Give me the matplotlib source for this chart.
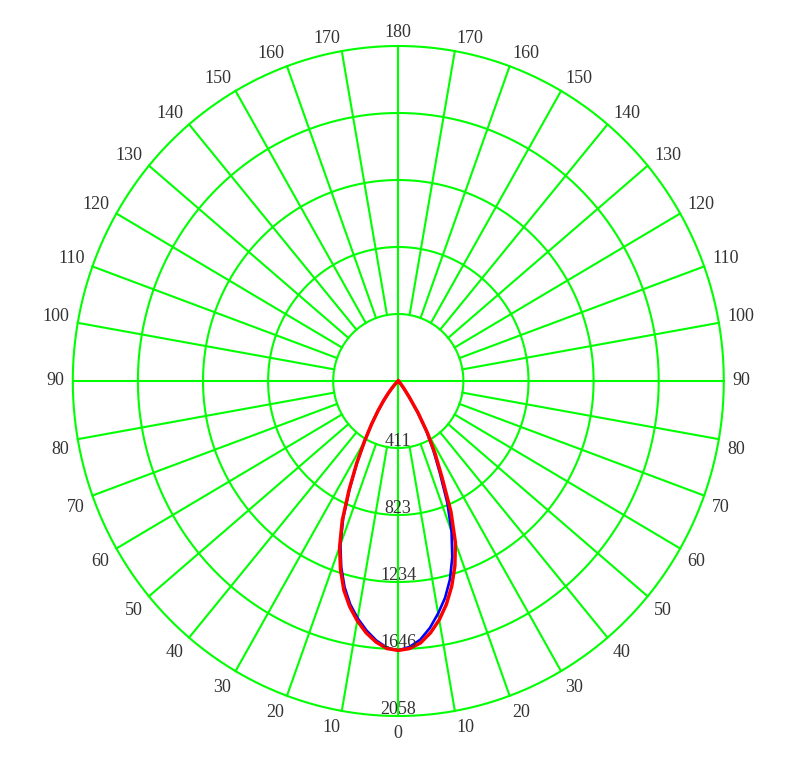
import numpy as np
import matplotlib
matplotlib.use('Agg')
import matplotlib.pyplot as plt

# intensity rings (cd) and their labels
ring_values = [411.6, 823.2, 1234.8, 1646.4, 2058.0]
ring_labels = ['411', '823', '1234', '1646', '2058']
angle_ticks = [0, 10, 20, 30, 40, 50, 60, 70, 80, 90,
               100, 110, 120, 130, 140, 150, 160, 170, 180]

gamma = [0, 2.5, 5, 7.5, 10, 12.5, 15, 17.5, 20, 22.5, 25, 27.5,
         30, 32.5, 35, 37.5, 40, 42.5, 45, 47.5, 50, 52.5, 55]

red_left = [1655, 1645, 1610, 1560, 1495, 1420, 1330, 1215, 1085, 925, 735, 570,
            428, 315, 225, 155, 100, 62, 35, 18, 8, 2, 0]
red_right = [1655, 1645, 1615, 1560, 1490, 1405, 1305, 1190, 1055, 870, 655, 505,
             370, 235, 120, 60, 28, 12, 4, 0, 0, 0, 0]
blue_left = [1655, 1640, 1600, 1545, 1480, 1405, 1312, 1200, 1070, 910, 725, 565,
             425, 312, 222, 152, 98, 60, 34, 17, 7, 2, 0]
blue_right = [1655, 1635, 1595, 1530, 1450, 1365, 1262, 1135, 985, 810, 620, 480,
              355, 225, 115, 55, 25, 10, 3, 0, 0, 0, 0]

GREEN = '#00ff00'
TXT = '#333333'
FONT = 'Liberation Serif'


def curve_xy(left, right):
    g = np.radians(gamma)
    l = np.array(left, dtype=float)
    r = np.array(right, dtype=float)
    x = np.concatenate([-l[::-1] * np.sin(g[::-1]), r[1:] * np.sin(g[1:])])
    y = np.concatenate([-l[::-1] * np.cos(g[::-1]), -r[1:] * np.cos(g[1:])])
    return x, y


fig = plt.figure(figsize=(7.98, 7.64), dpi=100)
ax = fig.add_axes([0.009649, 0.01126, 0.97895, 0.98010])
ax.set_xlim(-2469.6, 2469.6)
ax.set_ylim(-2300, 2300)
ax.axis('off')

R = ring_values[-1]
r_in = ring_values[0]

# rings
t = np.linspace(0, 2 * np.pi, 500)
for rv in ring_values:
    ax.plot(rv * np.cos(t), rv * np.sin(t), color=GREEN, lw=1.5, zorder=1)

# spokes
for a in range(10, 180, 10):
    if a == 90:
        continue
    ar = np.radians(a)
    for side in (-1, 1):
        ax.plot([side * r_in * np.sin(ar), side * R * np.sin(ar)],
                [-r_in * np.cos(ar), -R * np.cos(ar)],
                color=GREEN, lw=1.5, zorder=1)
ax.plot([-R, R], [0, 0], color=GREEN, lw=1.5, zorder=1)
ax.plot([0, 0], [-R, R], color=GREEN, lw=1.5, zorder=1)

# curves
bx, by = curve_xy(blue_left, blue_right)
ax.plot(bx, by, color='#0000ff', lw=1.9, zorder=2, solid_joinstyle='round')
rx, ry = curve_xy(red_left, red_right)
ax.plot(rx, ry, color='#ff0000', lw=2.5, zorder=3, solid_joinstyle='round')

# ring labels
for rv, lab in zip(ring_values, ring_labels):
    ax.text(0, -rv + 14, lab, ha='center', va='baseline', fontsize=13,
            family=FONT, color=TXT, zorder=4)

# angle labels
R0 = R * 5.13 / 5
for a in angle_ticks:
    ar = np.radians(a)
    for side in (-1, 1):
        if a in (0, 180) and side == 1:
            continue
        x = side * R0 * np.sin(ar)
        y = -R0 * np.cos(ar)
        if a in (0, 180):
            ha = 'center'
        else:
            ha = 'right' if side < 0 else 'left'
        if a == 90:
            va = 'center'
        elif a < 90:
            va = 'top'
        else:
            va = 'baseline'
        ax.text(x, y, str(a), ha=ha, va=va, fontsize=13, family=FONT,
                color=TXT, zorder=4)

fig.savefig('out.png', dpi=100)
